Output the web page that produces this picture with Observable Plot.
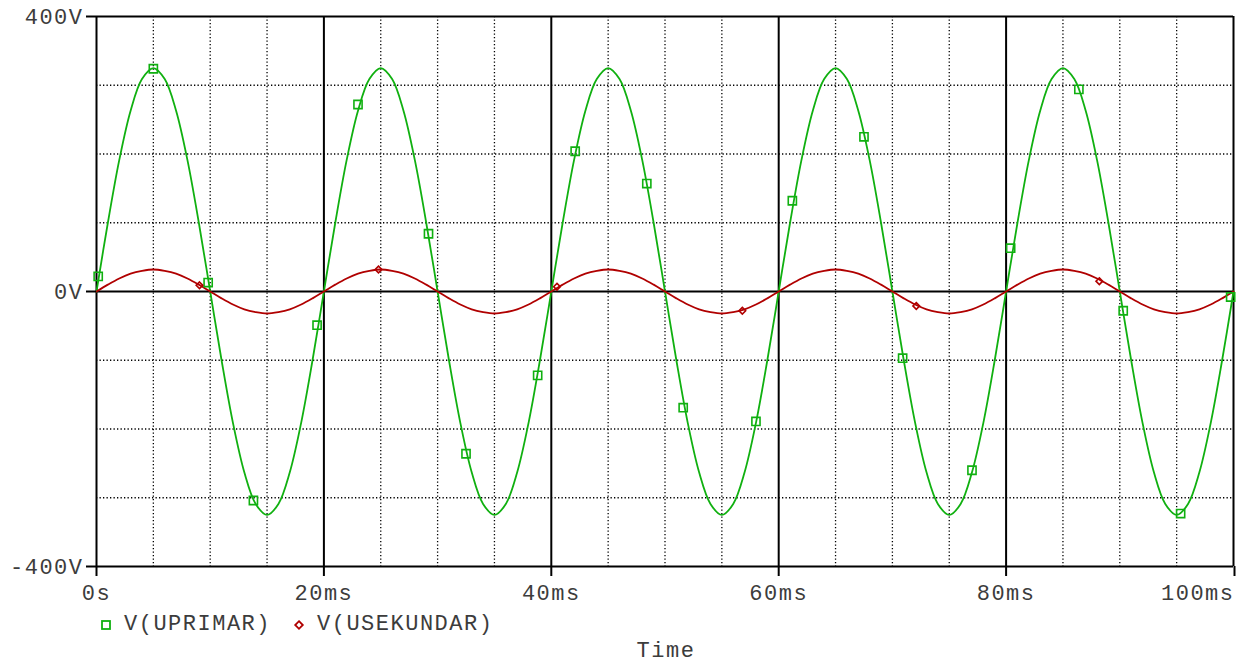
<!DOCTYPE html>
<html><head><meta charset="utf-8">
<script src="https://cdn.jsdelivr.net/npm/d3@7"></script>
<script src="https://cdn.jsdelivr.net/npm/@observablehq/plot@0.6"></script>
<style>
body{margin:0;background:#fff;}
#wrap{position:relative;width:1244px;height:663px;font-family:"Liberation Mono",monospace;color:#3c3c3c;overflow:hidden;}
#chart{position:absolute;left:0;top:0;}
.lab{position:absolute;font-size:22px;letter-spacing:1.5px;line-height:26px;white-space:nowrap;}
.sw{position:absolute;}
</style></head><body><div id="wrap"><div id="chart"></div></div>
<script>
// time in ms
const time = [0,1,2,3,4,5,6,7,8,9,10,11,12,13,14,15,16,17,18,19,
  20,21,22,23,24,25,26,27,28,29,30,31,32,33,34,35,36,37,38,39,
  40,41,42,43,44,45,46,47,48,49,50,51,52,53,54,55,56,57,58,59,
  60,61,62,63,64,65,66,67,68,69,70,71,72,73,74,75,76,77,78,79,
  80,81,82,83,84,85,86,87,88,89,90,91,92,93,94,95,96,97,98,99,100];
// V(UPRIMAR) in volts
const uprimar = [
  0,100,191,263,309,325,309,263,191,100,0,-100,-191,-263,-309,-325,-309,-263,-191,-100,
  0,100,191,263,309,325,309,263,191,100,0,-100,-191,-263,-309,-325,-309,-263,-191,-100,
  0,100,191,263,309,325,309,263,191,100,0,-100,-191,-263,-309,-325,-309,-263,-191,-100,
  0,100,191,263,309,325,309,263,191,100,0,-100,-191,-263,-309,-325,-309,-263,-191,-100,
  0,100,191,263,309,325,309,263,191,100,0,-100,-191,-263,-309,-325,-309,-263,-191,-100,
  0];
// V(USEKUNDAR) in volts
const usekundar = [
  0,10,19,26,30,32,30,26,19,10,0,-10,-19,-26,-30,-32,-30,-26,-19,-10,
  0,10,19,26,30,32,30,26,19,10,0,-10,-19,-26,-30,-32,-30,-26,-19,-10,
  0,10,19,26,30,32,30,26,19,10,0,-10,-19,-26,-30,-32,-30,-26,-19,-10,
  0,10,19,26,30,32,30,26,19,10,0,-10,-19,-26,-30,-32,-30,-26,-19,-10,
  0,10,19,26,30,32,30,26,19,10,0,-10,-19,-26,-30,-32,-30,-26,-19,-10,
  0];
// marker positions
const markTimeP = [0.15,5.0,9.82,13.8,19.4,23.0,29.2,32.5,38.8,42.1,48.4,51.6,58.0,61.2,67.5,70.9,77.0,80.4,86.4,90.3,95.35,99.75];
const markValP  = [22,324,13,-304,-49,272,84,-236,-122,204,157,-169,-189,132,225,-97,-260,63,294,-28,-323,-8];
const markTimeS = [9.06,24.8,40.5,56.8,72.1,88.2];
const markValS  = [9,32,7,-28,-21,15];
// ticks / grid
const xMajor = [0,20,40,60,80,100];
const xMinor = [5,10,15,25,30,35,45,50,55,65,70,75,85,90,95];
const yMajor = [-400,0,400];
const yMinor = [-300,-200,-100,100,200,300];
const seriesNames = ["V(UPRIMAR)","V(USEKUNDAR)"];
const seriesColors = ["#10b010","#b00000"];

const lineP = time.map((t,i)=>({t, v: uprimar[i]}));
const lineS = time.map((t,i)=>({t, v: usekundar[i]}));
const dotsP = markTimeP.map((t,i)=>({t, v: markValP[i]}));
const dotsS = markTimeS.map((t,i)=>({t, v: markValS[i]}));

const xFmt = d => d===0 ? "0s" : d+"ms";
const dotted = {stroke:"black", strokeWidth:1.3, strokeDasharray:"1.3,2.2"};
const plot = Plot.plot({
  width: 1244, height: 612,
  marginLeft: 96, marginRight: 11, marginTop: 16, marginBottom: 46,
  style: {fontFamily:"Liberation Mono, monospace", fontSize:"22px", background:"white", color:"#3c3c3c", letterSpacing:"1.5px"},
  x: {domain:[0,100]},
  y: {domain:[-400,400]},
  marks: [
    Plot.ruleX(xMinor, dotted),
    Plot.ruleY(yMinor, dotted),
    Plot.ruleX(xMajor, {stroke:"black", strokeWidth:2}),
    Plot.ruleY(yMajor, {stroke:"black", strokeWidth:2}),
    Plot.line(lineP, {x:"t", y:"v", stroke:seriesColors[0], strokeWidth:1.8, curve:"catmull-rom"}),
    Plot.line(lineS, {x:"t", y:"v", stroke:seriesColors[1], strokeWidth:1.8, curve:"catmull-rom"}),
    Plot.dot(dotsP, {x:"t", y:"v", symbol:"square", r:4.6, stroke:seriesColors[0], strokeWidth:1.6, fill:"none"}),
    Plot.dot(dotsS, {x:"t", y:"v", symbol:"diamond2", r:3, stroke:seriesColors[1], strokeWidth:1.6, fill:"none"}),
    Plot.axisX({ticks:xMajor.slice(0,-1), tickSize:10, tickPadding:8, strokeWidth:2, stroke:"black", tickFormat:xFmt, label:null}),
    Plot.axisX({ticks:xMajor.slice(-1), tickSize:10, tickPadding:8, strokeWidth:2, stroke:"black", tickFormat:xFmt, textAnchor:"end", dx:1, label:null}),
    Plot.axisY({ticks:yMajor, tickSize:10, tickPadding:3, strokeWidth:2, stroke:"black", tickFormat:d => String(d)+"V", label:null})
  ]
});
document.getElementById("chart").appendChild(plot);

const wrap = document.getElementById("wrap");
function addSwatch(x, y, kind, color){
  const ns="http://www.w3.org/2000/svg";
  const s=document.createElementNS(ns,"svg");
  s.setAttribute("width","14"); s.setAttribute("height","14");
  s.setAttribute("class","sw");
  s.style.left=(x-7)+"px"; s.style.top=(y-7)+"px";
  let el;
  if(kind==="square"){ el=document.createElementNS(ns,"rect"); el.setAttribute("x","3"); el.setAttribute("y","3"); el.setAttribute("width","8"); el.setAttribute("height","8"); }
  else { el=document.createElementNS(ns,"path"); el.setAttribute("d","M7,3.2L10.8,7L7,10.8L3.2,7Z"); }
  el.setAttribute("fill","none"); el.setAttribute("stroke",color); el.setAttribute("stroke-width","1.8");
  s.appendChild(el); wrap.appendChild(s);
}
function addLabel(text, left, top, center){
  const d=document.createElement("div"); d.className="lab"; d.textContent=text;
  d.style.top=top+"px";
  if(center){ d.style.left="0"; d.style.width="1244px"; d.style.textAlign="center"; d.style.paddingLeft="88px"; d.style.boxSizing="border-box"; }
  else d.style.left=left+"px";
  wrap.appendChild(d);
}
addSwatch(105.5, 625, "square", seriesColors[0]);
addLabel(seriesNames[0], 124, 612);
addSwatch(299, 625, "diamond", seriesColors[1]);
addLabel(seriesNames[1], 317, 612);
addLabel("Time", 0, 639, true);
</script></body></html>
